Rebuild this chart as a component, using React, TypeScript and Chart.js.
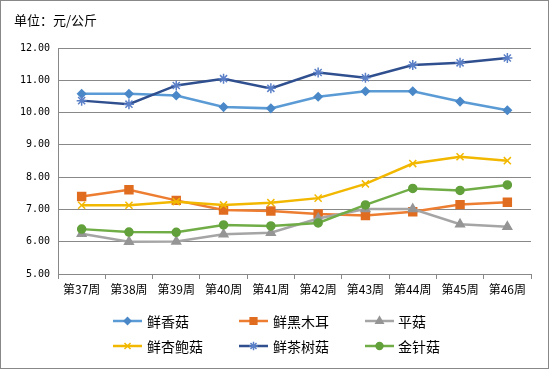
import React, { useEffect, useRef } from "react";
import { Chart, registerables } from "chart.js";
import { drawPoint } from "chart.js/helpers";

Chart.register(...registerables);

const categories = ["第37周", "第38周", "第39周", "第40周", "第41周", "第42周", "第43周", "第44周", "第45周", "第46周"];
const xiangGu = [10.58, 10.58, 10.53, 10.17, 10.13, 10.49, 10.66, 10.66, 10.34, 10.07];
const heiMuEr = [7.40, 7.61, 7.28, 6.98, 6.95, 6.86, 6.81, 6.93, 7.15, 7.22];
const pingGu = [6.25, 6.00, 6.01, 6.23, 6.28, 6.72, 7.01, 7.01, 6.54, 6.46];
const xingBaoGu = [7.13, 7.13, 7.24, 7.14, 7.21, 7.35, 7.79, 8.42, 8.63, 8.51];
const chaShuGu = [10.37, 10.26, 10.84, 11.05, 10.75, 11.24, 11.08, 11.47, 11.54, 11.69];
const jinZhenGu = [6.39, 6.30, 6.29, 6.52, 6.49, 6.58, 7.14, 7.65, 7.59, 7.76];
const seriesNames = ["鲜香菇", "鲜黑木耳", "平菇", "鲜杏鲍菇", "鲜茶树菇", "金针菇"];
const yTicks = [5, 6, 7, 8, 9, 10, 11, 12];
const titleText = "单位：元/公斤";

const CJK = '"Noto Sans CJK SC", "Noto Sans", sans-serif';

const styles = [
  { color: "#5B9BD5", point: "#4A88C8", style: "rectRot", r: 4 },
  { color: "#ED7D31", point: "#E06C20", style: "rect", r: 5.6 },
  { color: "#A5A5A5", point: "#959595", style: "triangle", r: 5 },
  { color: "#F2B800", point: "#F2B800", style: "crossRot", r: 5 },
  { color: "#2F4F8F", point: "#5B80C8", style: "star", r: 5 },
  { color: "#70AD47", point: "#62A03B", style: "circle", r: 4 },
];

const customPlugin = {
  id: "custom",
  beforeDraw(chart: any) {
    const ctx = chart.ctx;
    ctx.save();
    ctx.fillStyle = "#ffffff";
    ctx.fillRect(0, 0, chart.width, chart.height);
    ctx.restore();
  },
  afterDraw(chart: any) {
    const ctx = chart.ctx;
    ctx.save();
    ctx.strokeStyle = "#888888";
    ctx.lineWidth = 1;
    ctx.strokeRect(0.5, 0.5, chart.width - 1, chart.height - 2);
    ctx.fillStyle = "#000000";
    ctx.font = `13px ${CJK}`;
    ctx.textBaseline = "middle";
    ctx.textAlign = "left";
    ctx.fillText(titleText, 14, 20);
    const cols = [
      { lx: 113, tx: 147 },
      { lx: 239, tx: 273 },
      { lx: 365, tx: 398 },
    ];
    const rows = [321, 346];
    chart.data.datasets.forEach((ds: any, i: number) => {
      const c = cols[i % 3];
      const y = rows[Math.floor(i / 3)];
      const s = styles[i];
      ctx.strokeStyle = s.color;
      ctx.lineWidth = 2.5;
      ctx.beginPath();
      ctx.moveTo(c.lx, y);
      ctx.lineTo(c.lx + 29, y);
      ctx.stroke();
      ctx.fillStyle = s.point;
      ctx.strokeStyle = s.point;
      ctx.lineWidth = 1.5;
      drawPoint(ctx, { pointStyle: s.style as any, radius: s.r * 0.85, borderWidth: 1.5, rotation: 0 }, c.lx + 14.5, y);
      ctx.fillStyle = "#000000";
      ctx.font = `14px ${CJK}`;
      ctx.textBaseline = "middle";
      ctx.textAlign = "left";
      ctx.fillText(ds.label, c.tx, y + 1);
    });
    ctx.restore();
  },
};

const allData = [xiangGu, heiMuEr, pingGu, xingBaoGu, chaShuGu, jinZhenGu];

export default function App() {
  const ref = useRef<HTMLCanvasElement | null>(null);
  useEffect(() => {
    if (!ref.current) return;
    const chart = new Chart(ref.current, {
      type: "line",
      data: {
        labels: categories,
        datasets: allData.map((d, i) => ({
          label: seriesNames[i],
          data: d,
          borderColor: styles[i].color,
          backgroundColor: styles[i].point,
          pointBackgroundColor: styles[i].point,
          pointBorderColor: styles[i].point,
          pointStyle: styles[i].style as any,
          pointRadius: styles[i].r,
          pointBorderWidth: 1.5,
          borderWidth: 2.5,
          tension: 0,
          order: 6 - i,
        })),
      },
      options: {
        animation: false,
        responsive: false,
        devicePixelRatio: 1,
        layout: { padding: { left: 0, top: 48, right: 18, bottom: 74 } },
        plugins: {
          legend: { display: false },
          tooltip: { enabled: false },
          title: { display: false },
        },
        scales: {
          x: {
            type: "category",
            offset: true,
            grid: {
              offset: true,
              drawOnChartArea: false,
              drawTicks: true,
              tickLength: 5,
              color: "#888888",
            },
            border: { color: "#888888", width: 1 },
            ticks: {
              color: "#000000",
              font: { family: CJK, size: 12 },
              padding: 3,
              maxRotation: 0,
              autoSkip: false,
            },
            afterFit: (scale: any) => {
              scale.height = 22;
            },
          },
          y: {
            min: 5,
            max: 12,
            afterBuildTicks: (scale: any) => {
              scale.ticks = yTicks.map((v) => ({ value: v }));
            },
            grid: { color: "#888888", drawTicks: false, lineWidth: 1 },
            border: { color: "#888888", width: 1 },
            ticks: {
              color: "#000000",
              font: { family: '"DejaVu Sans Mono", monospace', size: 10 },
              padding: 8,
              callback: (v: any) => Number(v).toFixed(2),
            },
            afterFit: (scale: any) => {
              scale.width = 58;
            },
          },
        },
      },
      plugins: [customPlugin],
    });
    return () => chart.destroy();
  }, []);
  return (
    <div style={{ position: "fixed", left: 0, top: 0, width: 549, height: 370, background: "#fff" }}>
      <canvas ref={ref} width={549} height={370} style={{ display: "block", width: 549, height: 370 }} />
    </div>
  );
}
